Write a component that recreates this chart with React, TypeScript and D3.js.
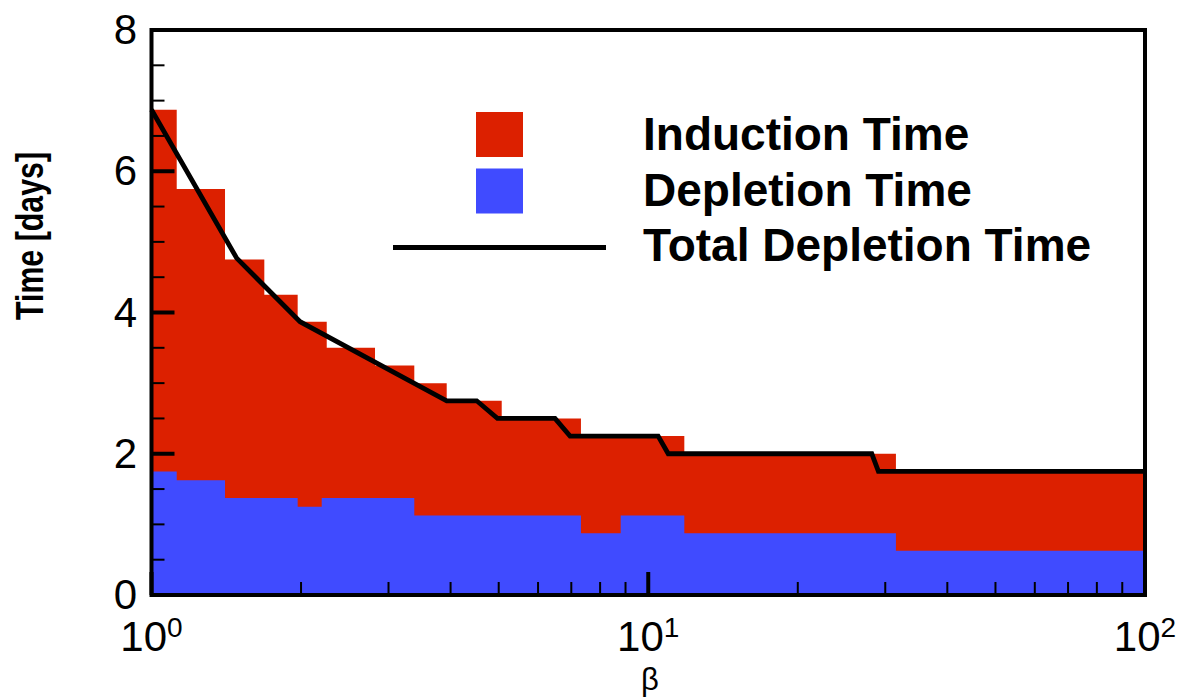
import React from "react";
import * as d3 from "d3";

// Stacked bar top (induction + depletion), step bins in beta
const totalEdges = [1, 1.124, 1.406, 1.687, 1.969, 2.253, 2.818, 3.381, 3.929, 5.07, 7.32, 11.82, 31.52, 100];
const totalValues = [6.87, 5.75, 4.75, 4.25, 3.87, 3.5, 3.25, 3.0, 2.75, 2.5, 2.25, 2.0, 1.75];

// Depletion time bins
const depletionEdges = [1, 1.124, 1.406, 1.969, 2.201, 3.381, 7.32, 8.8, 11.82, 31.52, 100];
const depletionValues = [1.75, 1.625, 1.375, 1.25, 1.375, 1.125, 0.875, 1.125, 0.875, 0.625];

// Total depletion time line
const lineBeta = [1, 1.484, 1.991, 3.929, 4.515, 4.97, 6.49, 6.96, 10.47, 10.97, 28.18, 29.06, 100];
const lineValues = [6.87, 4.77, 3.87, 2.75, 2.75, 2.5, 2.5, 2.25, 2.25, 2.0, 2.0, 1.75, 1.75];

const yMajorTicks = [0, 2, 4, 6, 8];
const xMajorTicks = [1, 10, 100];
const xTickExponents = ["0", "1", "2"];
const legendLabels = ["Induction Time", "Depletion Time", "Total Depletion Time"];

const RED = "#DC2000";
const BLUE = "#404BFF";

export default function App() {
  const W = 1181, H = 698;
  const left = 151.5, right = 1145, top = 30, bottom = 595;
  const x = d3.scaleLog().domain([1, 100]).range([left, right]);
  const y = d3.scaleLinear().domain([0, 8]).range([bottom, top]);

  const yMinor = d3.range(0, 8.01, 0.5).filter((v) => !yMajorTicks.includes(v));
  const xMinor: number[] = [];
  [1, 10].forEach((d) => { for (let k = 2; k <= 9; k++) xMinor.push(d * k); });

  const stepArea = (edges: number[], vals: number[]) => {
    const pts = edges.map((e, i) => [e, vals[Math.min(i, vals.length - 1)]] as [number, number]);
    return d3.area<[number, number]>()
      .x((d) => x(d[0]))
      .y0(y(0))
      .y1((d) => y(d[1]))
      .curve(d3.curveStepAfter)(pts) || "";
  };

  const line = d3.line<number>().x((_, i) => x(lineBeta[i])).y((v) => y(v));

  const font = "Liberation Sans, Arial, Helvetica, sans-serif";

  return (
    <svg width={W} height={H} style={{ position: "absolute", left: 0, top: 0, background: "#fff" }} fontFamily={font}>
      <path d={stepArea(totalEdges, totalValues)} fill={RED} />
      <path d={stepArea(depletionEdges, depletionValues)} fill={BLUE} />
      <path d={line(lineValues) || ""} fill="none" stroke="#000" strokeWidth={4.8} strokeLinejoin="miter" />

      {/* y ticks */}
      {yMajorTicks.map((t) => (
        <line key={"ym" + t} x1={left} x2={left + 23} y1={y(t)} y2={y(t)} stroke="#000" strokeWidth={4} />
      ))}
      {yMinor.map((t) => (
        <line key={"yn" + t} x1={left} x2={left + 13} y1={y(t)} y2={y(t)} stroke="#000" strokeWidth={2} />
      ))}
      {/* x ticks */}
      {xMajorTicks.map((t) => (
        <line key={"xm" + t} x1={x(t)} x2={x(t)} y1={bottom} y2={bottom - 23} stroke="#000" strokeWidth={4} />
      ))}
      {xMinor.map((t) => (
        <line key={"xn" + t} x1={x(t)} x2={x(t)} y1={bottom} y2={bottom - 13} stroke="#000" strokeWidth={2} />
      ))}
      <rect x={left} y={top} width={right - left} height={bottom - top} fill="none" stroke="#000" strokeWidth={4} />

      {/* y tick labels */}
      {yMajorTicks.map((t) => (
        <text key={"yl" + t} x={137} y={y(t) + 14} textAnchor="end" fontSize={42} fill="#000">{t}</text>
      ))}
      {/* x tick labels */}
      {xMajorTicks.map((t, i) => (
        <text key={"xl" + t} x={x(t)} y={651} textAnchor="middle" fontSize={42} fill="#000">
          10<tspan dy={-14} fontSize={28}>{xTickExponents[i]}</tspan>
        </text>
      ))}
      <text x={650} y={690} textAnchor="middle" fontSize={31} fill="#000">β</text>
      <text transform={`translate(43,236) rotate(-90)`} textAnchor="middle" fontSize={38} fontWeight="bold"
        fill="#000" textLength={168} lengthAdjust="spacingAndGlyphs">Time [days]</text>

      {/* legend */}
      <rect x={476} y={112} width={47} height={45} fill={RED} />
      <rect x={476} y={168.5} width={47} height={45} fill={BLUE} />
      <line x1={393} x2={606} y1={247.5} y2={247.5} stroke="#000" strokeWidth={4.8} />
      {legendLabels.map((l, i) => (
        <text key={l} x={643} y={150 + i * 55.5} fontSize={46} fontWeight="bold" fill="#000">{l}</text>
      ))}
    </svg>
  );
}
